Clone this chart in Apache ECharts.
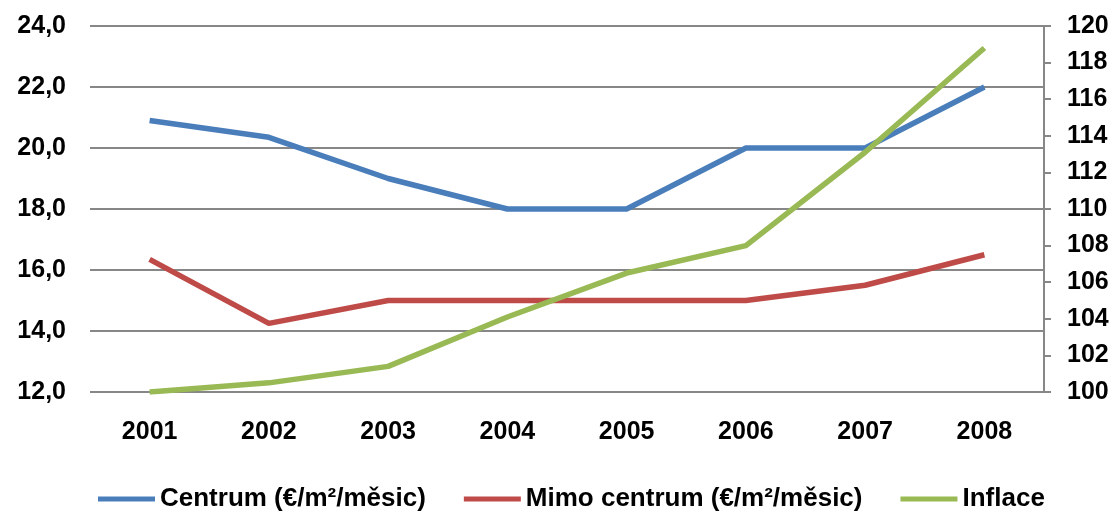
<!DOCTYPE html>
<html>
<head>
<meta charset="utf-8">
<script src="https://cdn.jsdelivr.net/npm/echarts@6/dist/echarts.min.js"></script>
<style>
  html, body { margin: 0; padding: 0; background: #fff; }
  #chart { width: 1118px; height: 512px; }
</style>
</head>
<body>
<div id="chart"></div>
<script>
  // data
  const years = ['2001', '2002', '2003', '2004', '2005', '2006', '2007', '2008'];
  const centrum = [20.9, 20.35, 19.0, 18.0, 18.0, 20.0, 20.0, 22.0];
  const mimoCentrum = [16.35, 14.25, 15.0, 15.0, 15.0, 15.0, 15.5, 16.5];
  const inflace = [100.0, 100.5, 101.4, 104.1, 106.5, 108.0, 113.1, 118.8];
  const seriesNames = ['Centrum (€/m²/měsic)', 'Mimo centrum (€/m²/měsic)', 'Inflace'];

  const gridColor = '#878787';
  const font = 'Liberation Sans, Arial, sans-serif';

  const chart = echarts.init(document.getElementById('chart'));

  const lineSeries = (name, data, color, axisIdx) => ({
    name: name,
    type: 'line',
    yAxisIndex: axisIdx,
    data: data,
    symbol: 'none',
    lineStyle: { color: color, width: 5.5 },
    itemStyle: { color: color },
    animation: false,
  });

  chart.setOption({
    animation: false,
    grid: { left: 90, right: 74, top: 26, bottom: 120 },
    legend: {
      top: 486,
      left: 98,
      padding: 0,
      itemWidth: 57,
      itemHeight: 5,
      itemGap: 38,
      icon: 'rect',
      textStyle: { color: '#000', fontSize: 26, fontWeight: 'bold', fontFamily: font },
      data: seriesNames,
    },
    xAxis: {
      type: 'category',
      data: years,
      axisLine: { show: false },
      axisTick: { show: false },
      axisLabel: { color: '#000', fontSize: 25, fontWeight: 'bold', fontFamily: font, margin: 28 },
    },
    yAxis: [
      {
        type: 'value',
        min: 12,
        max: 24,
        interval: 2,
        axisLine: { show: false },
        axisTick: { show: false },
        splitLine: { lineStyle: { color: gridColor, width: 2 } },
        axisLabel: {
          color: '#000',
          fontSize: 25,
          fontWeight: 'bold',
          fontFamily: font,
          margin: 24,
          formatter: (v) => v.toFixed(1).replace('.', ','),
        },
      },
      {
        type: 'value',
        min: 100,
        max: 120,
        interval: 2,
        position: 'right',
        axisLine: { show: true, lineStyle: { color: gridColor, width: 2 } },
        axisTick: { show: true, length: 7, lineStyle: { color: gridColor, width: 2 } },
        splitLine: { show: false },
        axisLabel: { color: '#000', fontSize: 25, fontWeight: 'bold', fontFamily: font, margin: 23 },
      },
    ],
    series: [
      lineSeries(seriesNames[0], centrum, '#4a7ebb', 0),
      lineSeries(seriesNames[1], mimoCentrum, '#be4b48', 0),
      lineSeries(seriesNames[2], inflace, '#98b954', 1),
    ],
  });
</script>
</body>
</html>
